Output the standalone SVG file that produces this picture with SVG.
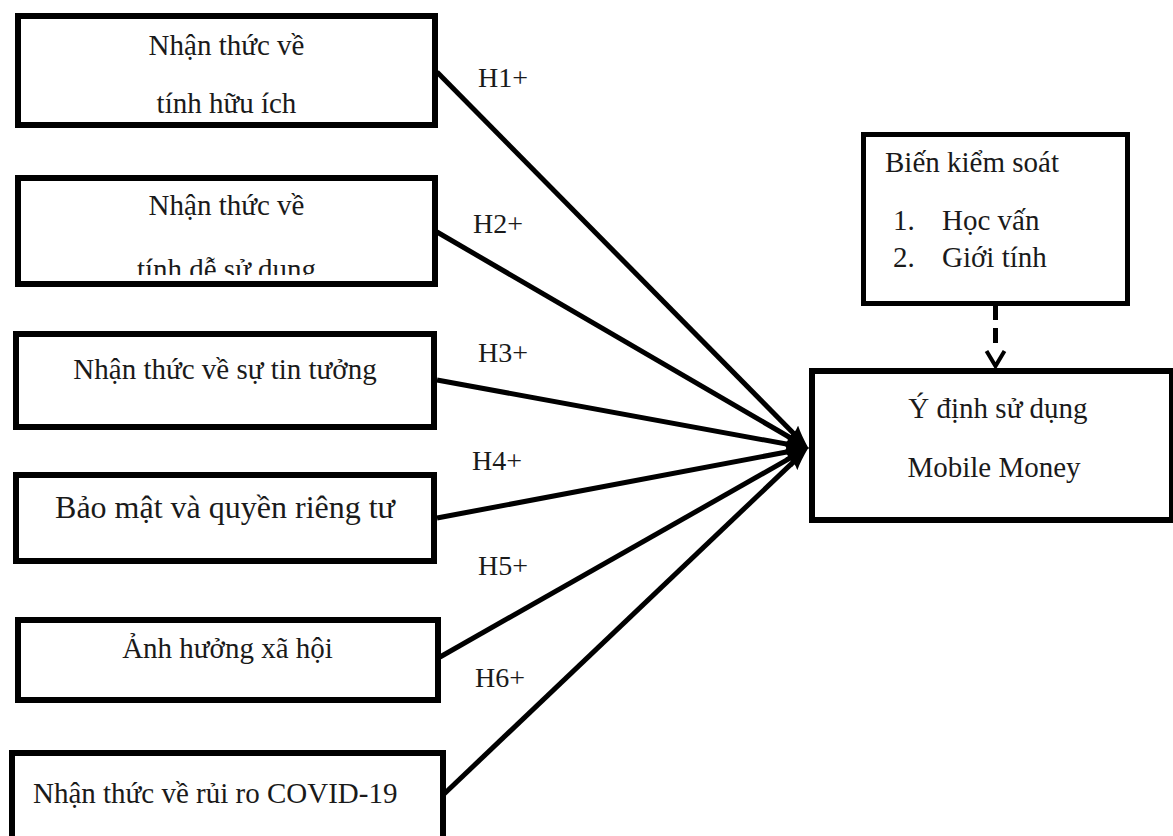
<svg xmlns="http://www.w3.org/2000/svg" width="1173" height="836" viewBox="0 0 1173 836">
  <style>
    .box { fill: #ffffff; stroke: #000000; stroke-width: 6; }
    .box-thin { fill: #ffffff; stroke: #000000; stroke-width: 5; }
    text { font-family: "Liberation Serif", "Times New Roman", serif; fill: #1a1a1a; font-size: 29px; }
    .mid { text-anchor: middle; }
    .big { font-size: 32px; }
    .hyp { font-size: 28px; }
    .link { stroke: #000000; stroke-width: 5; fill: none; marker-end: url(#head); }
    .dash { stroke: #000000; stroke-width: 5; fill: none; stroke-dasharray: 15 8; }
    .vhead { stroke: #000000; stroke-width: 4; fill: none; }
  </style>
  <defs>
    <!-- rounded filled head; the six heads pile up into one blob at the target -->
    <marker id="head" markerUnits="userSpaceOnUse" markerWidth="24" markerHeight="18" viewBox="0 0 22 16" refX="11" refY="8" orient="auto">
      <path d="M0,0 Q8,4 22,8 Q8,12 0,16 Q4,8 0,0 Z" fill="#000000"/>
    </marker>
    <clipPath id="clip-ease">
      <rect x="21" y="181" width="411" height="94"/>
    </clipPath>
  </defs>
  <rect width="1173" height="836" fill="#ffffff"/>

  <!-- hypothesis paths into the intention box -->
  <g id="connectors">
    <line class="link" x1="437" y1="72" x2="800.3" y2="440.2"/>
    <line class="link" x1="437" y1="232" x2="798.5" y2="442.5"/>
    <line class="link" x1="437" y1="380" x2="797.2" y2="446"/>
    <line class="link" x1="437" y1="518" x2="797.2" y2="450"/>
    <line class="link" x1="440" y1="657" x2="798.4" y2="453.4"/>
    <line class="link" x1="443" y1="795" x2="800" y2="455.6"/>
    <!-- control variables (dashed) -->
    <line class="dash" x1="995.5" y1="305" x2="995.5" y2="346"/>
    <polyline class="vhead" points="986.5,351 995.5,366 1004.5,351"/>
  </g>

  <g id="labels">
    <text class="hyp" x="478" y="87">H1+</text>
    <text class="hyp" x="473" y="233">H2+</text>
    <text class="hyp" x="478" y="362">H3+</text>
    <text class="hyp" x="472" y="470">H4+</text>
    <text class="hyp" x="478" y="575">H5+</text>
    <text class="hyp" x="475" y="687">H6+</text>
  </g>

  <g id="usefulness">
    <rect class="box" x="18" y="16" width="417" height="109"/>
    <text class="mid" x="226.5" y="55">Nhận thức về</text>
    <text class="mid" x="226.5" y="113">tính hữu ích</text>
  </g>

  <g id="ease-of-use">
    <rect class="box" x="18" y="178" width="417" height="106"/>
    <text class="mid" x="226.5" y="215">Nhận thức về</text>
    <text class="mid" x="226.5" y="279" clip-path="url(#clip-ease)">tính dễ sử dụng</text>
  </g>

  <g id="trust">
    <rect class="box" x="16" y="334" width="418" height="93"/>
    <text class="mid" x="225" y="379">Nhận thức về sự tin tưởng</text>
  </g>

  <g id="security">
    <rect class="box" x="16" y="475" width="418" height="86"/>
    <text class="mid big" x="225" y="518">Bảo mật và quyền riêng tư</text>
  </g>

  <g id="social">
    <rect class="box" x="18" y="620" width="420" height="80"/>
    <text class="mid" x="227.5" y="658">Ảnh hưởng xã hội</text>
  </g>

  <g id="covid-risk">
    <rect class="box" x="12" y="753" width="431" height="110"/>
    <text x="33" y="803">Nhận thức về rủi ro COVID-19</text>
  </g>

  <g id="controls">
    <rect class="box-thin" x="863.5" y="134.5" width="264" height="169"/>
    <text x="885" y="172">Biến kiểm soát</text>
    <text x="893" y="230">1.</text>
    <text x="942" y="230">Học vấn</text>
    <text x="893" y="267">2.</text>
    <text x="942" y="267">Giới tính</text>
  </g>

  <g id="intention">
    <rect class="box" x="812" y="371" width="360" height="149"/>
    <text class="mid" x="998" y="418">Ý định sử dụng</text>
    <text class="mid" x="994" y="477">Mobile Money</text>
  </g>
</svg>
